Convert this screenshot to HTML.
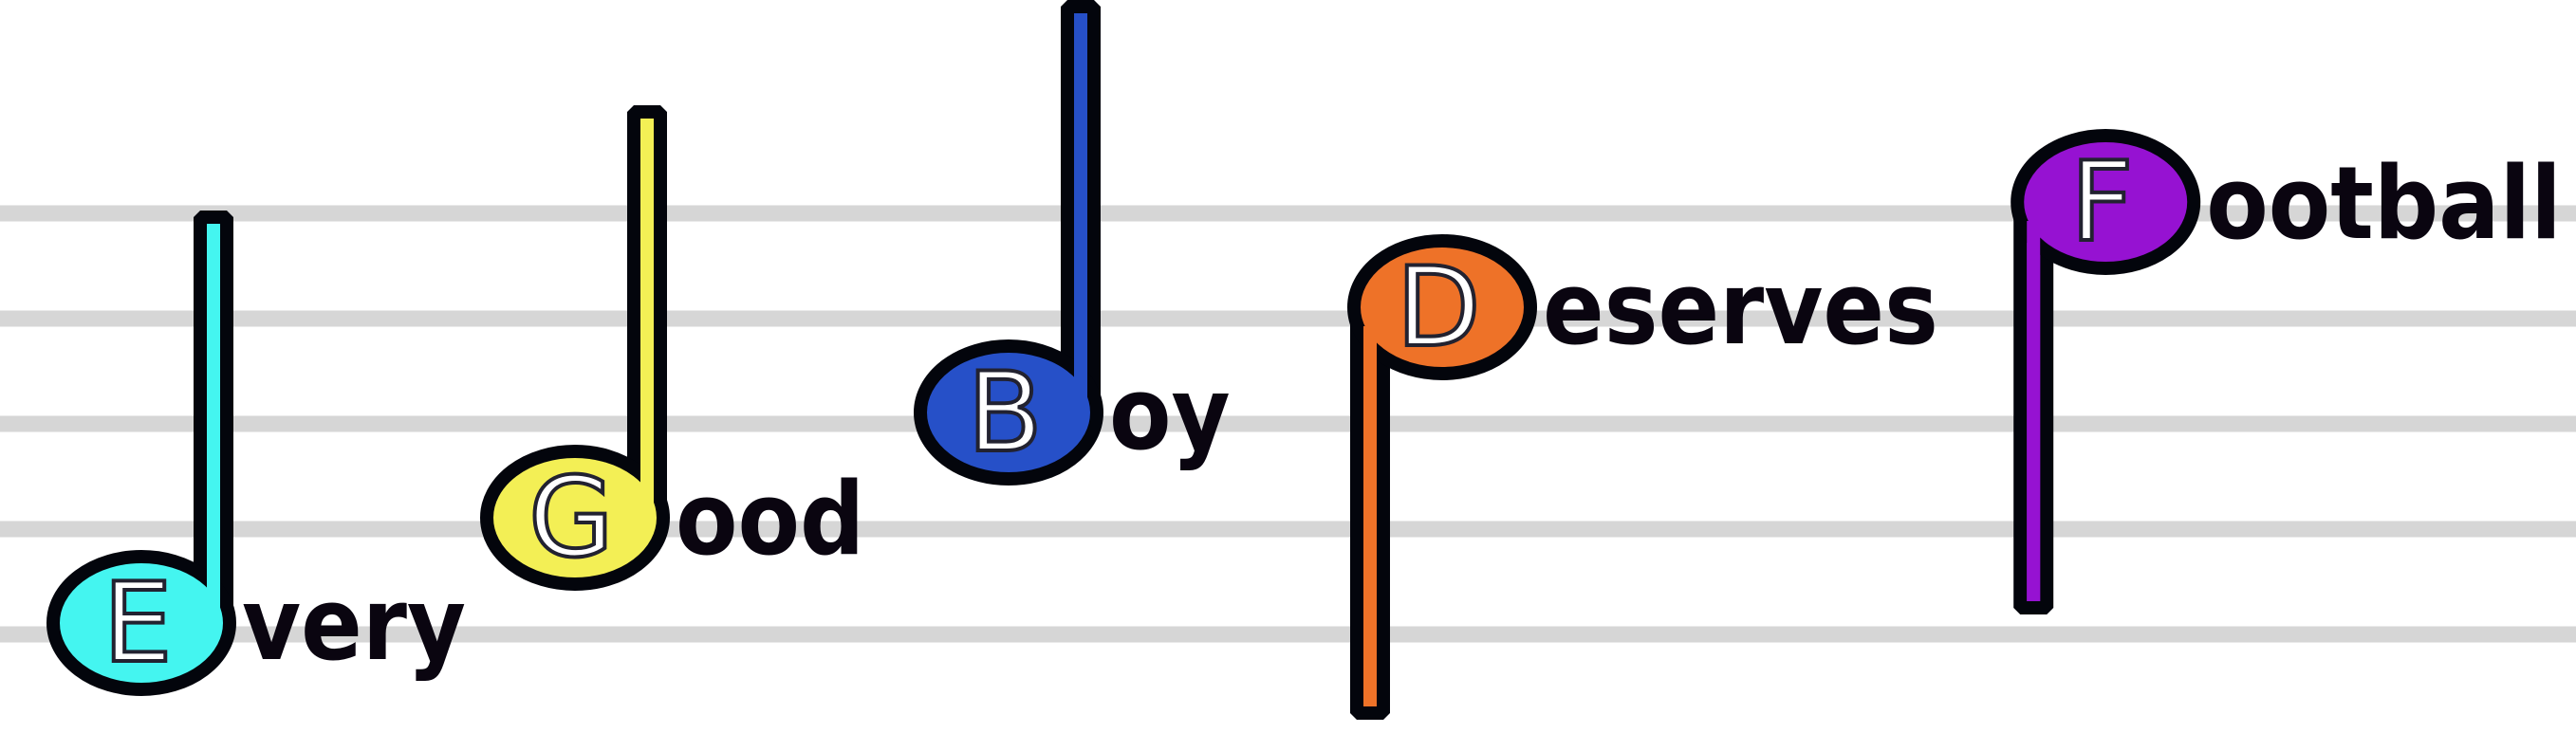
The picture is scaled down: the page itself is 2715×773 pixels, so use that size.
<!DOCTYPE html>
<html><head><meta charset="utf-8"><style>
html,body{margin:0;padding:0;background:#fff;}
svg{display:block;}
</style></head><body>
<svg id="chart" width="2715" height="773" viewBox="0 0 2715 773" xmlns="http://www.w3.org/2000/svg"></svg>
<script>
const letters = ["E","G","B","D","F"];
const words = ["very","ood","oy","eserves","ootball"];
const steps = [0,2,4,6,8];
const beats = [0,1,2,3,4.53];
const stemDirs = ["up","up","up","down","down"];
const colors = ["#44f5f0","#f3ef55","#2650c8","#ee7228","#9612d2"];
const staffLines = [0,1,2,3,4];

const NS="http://www.w3.org/2000/svg";
const svg=document.getElementById('chart');
const xScale = b => 149 + b*457;
const yScale = s => 669 - s*55.5 - 12;
const lineY = i => 225 + i*111;
function mk(tag, attrs){const e=document.createElementNS(NS,tag);for(const k in attrs)e.setAttribute(k,attrs[k]);return e;}

staffLines.forEach(i=>{
  const r=mk('rect',{x:0,y:lineY(i)-8.5,width:2715,height:17,fill:'#d6d6d6'});
  
  
  svg.appendChild(r);
});

letters.forEach((L,i)=>{
  const cx=xScale(beats[i]), cy=yScale(steps[i]);
  const g=mk('g',{});
  
  
  const up=stemDirs[i]==='up';
  const sx= up? cx+62 : cx-90;
  const sy= up? cy-428 : cy;
  const sh=428;
  const stem=mk('rect',{x:sx,y:sy,width:28,height:sh,fill:colors[i],stroke:'#03050c','stroke-width':14,'stroke-linejoin':'bevel'});
  
  
  g.appendChild(stem);
  const head=mk('ellipse',{cx:cx,cy:cy,rx:93,ry:70,fill:colors[i],stroke:'#03050c','stroke-width':14});
  
  
  g.appendChild(head);
  const fillOver=mk('rect',{x:sx+7,y:up?sy+7:sy+20,width:14,height:up?sh-7:sh-27,fill:colors[i]});
  g.appendChild(fillOver);
  const lt=mk('text',{x:cx-4,y:cy+40,'text-anchor':'middle','font-family':'DejaVu Sans, Liberation Sans, sans-serif','font-size':116,fill:'#ffffff',stroke:'#222230','stroke-width':4});
  lt.textContent=L;
  
  
  g.appendChild(lt);
  const wt=mk('text',{x:cx+106,y:cy+38,'font-family':'DejaVu Sans Condensed, DejaVu Sans, Liberation Sans, sans-serif','font-stretch':'condensed','font-weight':'bold','font-size':106,fill:'#0a0510'});
  wt.textContent=words[i];
  
  
  g.appendChild(wt);
  svg.appendChild(g);
});
</script>
</body></html>
